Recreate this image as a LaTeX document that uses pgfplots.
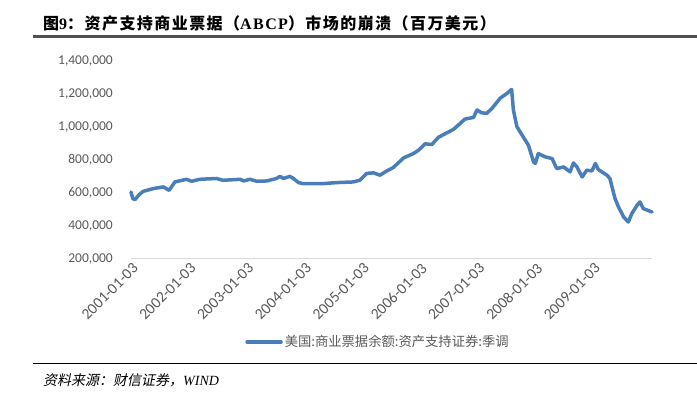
\documentclass[border=0pt]{standalone}
\usepackage{fontspec}
\usepackage{pgfplots}
\pgfplotsset{compat=1.18}
\setmainfont{Carlito}
\newfontfamily\cjk{Noto Sans CJK SC}
\newfontfamily\cjkt{Noto Sans CJK SC}[LetterSpace=9]
\newfontfamily\cjkit{Noto Sans CJK SC}[FakeSlant=0.2]
\newfontfamily\tnr{Liberation Serif}
\newfontfamily\tnrt{Liberation Serif}[LetterSpace=9]
\definecolor{serie}{RGB}{74,126,187}
\definecolor{lbl}{RGB}{89,89,89}
\definecolor{axl}{RGB}{217,217,217}
\definecolor{bar}{RGB}{80,80,80}
\begin{document}
\begin{tikzpicture}[x=1bp,y=1bp]
\useasboundingbox (0,0) rectangle (697,399);
\coordinate (O) at (131,140.5);
% title
\node[anchor=base west, inner sep=0pt] at (43,370) {\fontsize{16bp}{18bp}\selectfont{\cjkt\bfseries 图}{\tnrt\bfseries 9}{\cjkt\bfseries ：资产支持商业票据（}{\tnrt\bfseries ABCP}{\cjkt\bfseries ）市场的崩溃（百万美元）}};
\draw[bar, line width=3bp] (33,362.5) -- (697,362.5);
% source
\draw[black, line width=1.2bp] (33,35.5) -- (697,35.5);
\node[anchor=base west, inner sep=0pt] at (43,14) {\fontsize{14bp}{16bp}\selectfont{\cjkit 资料来源：财信证券，}{\tnr\itshape WIND}};
\begin{axis}[
  at={(O)}, anchor=south west,
  width=521bp, height=198bp, scale only axis,
  xmin=0, xmax=9.02, ymin=200000, ymax=1400000,
  axis y line=none,
  axis x line*=bottom,
  x axis line style={axl, line width=1bp, -},
  xtick={0,1,2,3,4,5,6,7,8},
  xticklabels={2001-01-03,2002-01-03,2003-01-03,2004-01-03,2005-01-03,2006-01-03,2007-01-03,2008-01-03,2009-01-03},
  xtick style={draw=none},
  xticklabel style={rotate=45, anchor=north east, inner sep=0pt, xshift=-2bp, yshift=-3bp, text=lbl, font=\fontsize{15.5bp}{18bp}\selectfont},
  clip=false,
  legend style={draw=none, fill=none, inner sep=0pt, at={(0.219,-0.422)}, anchor=west, font=\cjk\fontsize{13.3bp}{16bp}\selectfont, text=lbl},
  legend image code/.code={\draw[#1, line width=3.5bp] (0bp,0bp) -- (34bp,0bp);},
]
\addplot[serie, line width=3.5bp, line join=round, line cap=round] coordinates {
(0,603000) (0.03,563000) (0.07,557000) (0.13,583000) (0.21,607000) (0.39,624000)
(0.56,634000) (0.66,613000) (0.76,664000) (0.96,680000) (1.05,668000) (1.19,680000)
(1.48,685000) (1.59,674000) (1.89,680000) (1.95,670000) (2.06,680000) (2.18,668000)
(2.35,670000) (2.52,685000) (2.58,698000) (2.64,685000) (2.75,698000) (2.81,685000)
(2.90,660000) (2.98,654000) (3.33,654000) (3.56,660000) (3.85,664000) (3.96,674000)
(4.08,716000) (4.20,719000) (4.31,705000) (4.43,731000) (4.54,751000) (4.72,810000)
(4.89,836000) (4.98,857000) (5.09,895000) (5.21,891000) (5.32,934000) (5.47,962000)
(5.58,982000) (5.70,1019000) (5.78,1045000) (5.93,1055000) (5.99,1100000) (6.07,1083000)
(6.16,1080000) (6.25,1110000) (6.39,1171000) (6.51,1201000) (6.59,1225000) (6.62,1100000)
(6.68,1000000) (6.77,948000) (6.88,887000) (6.97,785000) (7.00,776000) (7.05,836000)
(7.17,816000) (7.29,806000) (7.37,745000) (7.49,755000) (7.60,725000) (7.66,779000)
(7.72,755000) (7.81,694000) (7.89,735000) (7.98,731000) (8.04,776000) (8.09,739000)
(8.24,705000) (8.29,685000) (8.38,563000) (8.44,512000) (8.53,451000) (8.61,421000)
(8.67,472000) (8.76,522000) (8.81,543000) (8.87,502000) (9.02,482000)
};
\addlegendentry{美国:商业票据余额:资产支持证券:季调}
\end{axis}
\begin{axis}[
  at={(O)}, anchor=south west,
  width=521bp, height=198bp, scale only axis,
  xmin=0, xmax=9.02, ymin=200000, ymax=1400000,
  hide x axis,
  axis y line*=left,
  y axis line style={draw=none},
  ytick={200000,400000,600000,800000,1000000,1200000,1400000},
  ytick style={draw=none},
  scaled y ticks=false,
  yticklabel style={anchor=east, inner sep=0pt, xshift=-18bp, text=lbl, font=\fontsize{13.5bp}{16bp}\selectfont, /pgf/number format/.cd, fixed, precision=0, 1000 sep={,}, assume math mode=true},
]
\end{axis}
\end{tikzpicture}
\end{document}
